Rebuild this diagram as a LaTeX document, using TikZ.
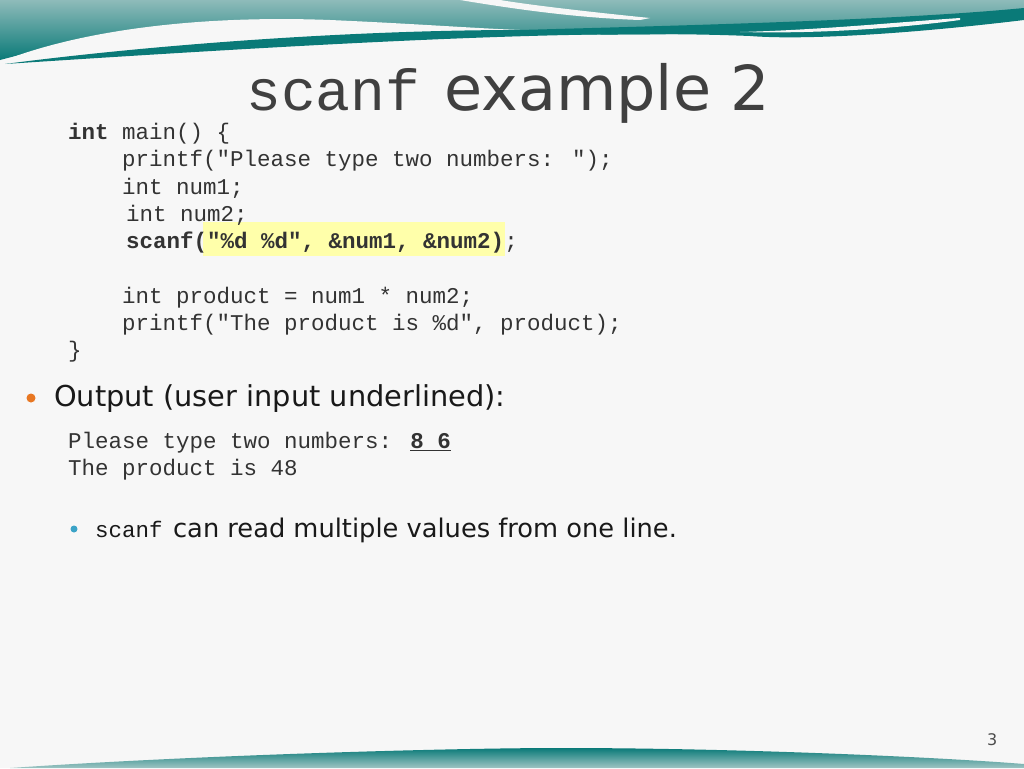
\documentclass[tikz,border=0pt]{standalone}
\usepackage{fontspec}
\setmainfont{DejaVu Sans}
\newfontfamily\cmono{Liberation Mono}
\definecolor{teal1}{HTML}{0A7A78}
\definecolor{teal2}{HTML}{5E9E9C}
\definecolor{hl}{HTML}{FFFFAA}
\definecolor{bul}{HTML}{E87722}
\definecolor{bul2}{HTML}{3BA3C7}
\begin{document}
\begin{tikzpicture}[x=1pt,y=-1pt,
  code/.style={anchor=west,inner sep=0,font=\cmono\fontsize{22.5}{24}\selectfont,text=black!80},
  body/.style={anchor=west,inner sep=0,text=black!90}]
\useasboundingbox (0,0) rectangle (1024,768);
\fill[white!97!black] (0,0) rectangle (1024,768);
% header waves
\shade[top color=teal2!70,bottom color=teal1] (0,0) -- (1024,0) -- (1024,10) .. controls (800,30) and (700,40) .. (460,32) .. controls (300,25) and (150,20) .. (0,60) -- cycle;
\fill[white!97!black] (0,62) .. controls (80,30) and (200,15) .. (330,20) .. controls (420,24) and (470,28) .. (520,30) .. controls (400,32) and (200,40) .. (0,62) -- cycle;
\fill[teal1] (5,64) .. controls (150,45) and (350,30) .. (520,30) .. controls (700,25) and (900,20) .. (1024,8) -- (1024,20) .. controls (900,35) and (800,40) .. (750,36) .. controls (600,30) and (400,38) .. (5,64) -- cycle;
\fill[white!97!black] (460,0) .. controls (520,10) and (580,18) .. (640,20) -- (650,18) .. controls (590,12) and (530,5) .. (500,0) -- cycle;
\fill[white!97!black] (740,32) .. controls (820,30) and (900,22) .. (960,18) -- (960,20) .. controls (900,28) and (820,34) .. (740,32) -- cycle;
% footer
\shade[top color=teal1,bottom color=teal2!60] (10,768) .. controls (200,755) and (450,748) .. (560,748) .. controls (750,748) and (950,758) .. (1024,764) -- (1024,768) -- cycle;
% title
\node[anchor=base west,inner sep=0,text=black!75] (title) at (246,110) {{\cmono\fontsize{58}{60}\selectfont scanf}\hspace{24pt}{\fontsize{62}{64}\selectfont example 2}};
% highlight
\fill[hl] (203,222) rectangle (505,256);
\node[code] (l1) at (68,134) {\textbf{int} main() \{};
\node[code] (l2) at (122,161) {printf("Please type two numbers: ");};
\node[code] (l3) at (122,188) {int num1;};
\node[code] (l4) at (126,215) {int num2;};
\node[code] (l5) at (126,243) {\textbf{scanf("\%d \%d", \&num1, \&num2)};};
\node[code] (l6) at (122,298) {int product = num1 * num2;};
\node[code] (l7) at (122,325) {printf("The product is \%d", product);};
\node[code] (l8) at (68,352) {\}};
\fill[bul] (31,398) circle (4.5);
\node[body,font=\fontsize{28.8}{30}\selectfont] (out) at (54,399) {Output (user input underlined):};
\node[code] (o1) at (68,443) {Please type two numbers: \underline{\textbf{8 6}}};
\node[code] (o2) at (68,470) {The product is 48};
\fill[bul2] (74,529) circle (3.5);
\node[body,font=\fontsize{22.5}{24}\selectfont\cmono] (b2) at (95,529) {scanf};
\node[body,font=\fontsize{25.7}{28}\selectfont,anchor=base west] (b2t) at ([xshift=10pt]b2.base east) {can read multiple values from one line.};
\node[body,font=\fontsize{16}{18}\selectfont,text=black!70] (pg) at (987,740) {3};
\end{tikzpicture}
\end{document}
